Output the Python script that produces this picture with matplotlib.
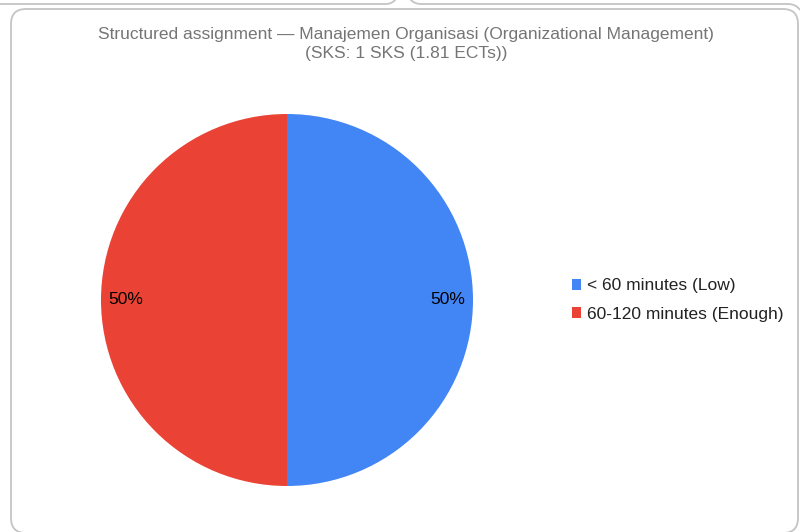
import matplotlib.pyplot as plt
from matplotlib.patches import FancyBboxPatch
from matplotlib.path import Path
from matplotlib.patches import PathPatch

plt.rcParams['font.family'] = ['Liberation Sans', 'DejaVu Sans']

# data
labels = ['< 60 minutes (Low)', '60-120 minutes (Enough)']
values = [50, 50]
colors = ['#4285F4', '#EA4335']
title = ('Structured assignment \u2014 Manajemen Organisasi (Organizational Management)\n'
         '(SKS: 1 SKS (1.81 ECTs))')

W, H = 800, 532
fig = plt.figure(figsize=(W / 100, H / 100), dpi=100)

# card frame drawn in pixel coords
bg = fig.add_axes([0, 0, 1, 1])
bg.set_xlim(0, W)
bg.set_ylim(H, 0)
bg.axis('off')
card = FancyBboxPatch((11, 9), 787, 524, boxstyle='round,pad=0,rounding_size=15',
                      facecolor='white', edgecolor='#c4c4c4', linewidth=1.3)
bg.add_patch(card)

# bits of the tooltip-ish shape above the card
left_tab = Path([(0, 4), (386, 4), (392, 4), (396, -1)],
                [Path.MOVETO, Path.LINETO, Path.CURVE3, Path.CURVE3])
right_tab = Path([(410, -1), (414, 4), (421, 4), (788, 4), (796, 4), (800, 10)],
                 [Path.MOVETO, Path.CURVE3, Path.CURVE3, Path.LINETO, Path.CURVE3, Path.CURVE3])
for p in (left_tab, right_tab):
    bg.add_patch(PathPatch(p, facecolor='none', edgecolor='#c4c4c4', linewidth=1.3))

bg.text(406, 44, title, ha='center', va='center', fontsize=12.5, color='#757575',
        linespacing=1.3)

# pie
cx, cy, r = 287, 300, 186
ax = fig.add_axes([(cx - r) / W, 1 - (cy + r) / H, 2 * r / W, 2 * r / H])
wedges, texts, autotexts = ax.pie(values, colors=colors, startangle=90, counterclock=False,
                                  autopct='%1.0f%%', pctdistance=0.865,
                                  textprops={'fontsize': 12.5, 'color': 'black'})
ax.set_xlim(-1, 1)
ax.set_ylim(-1, 1)
ax.set_aspect('equal')

ax.legend(wedges, labels, loc='center left', bbox_to_anchor=(1.247, 0.5), frameon=False,
          fontsize=12.5, handlelength=0.55, handleheight=0.55, handletextpad=0.3,
          labelspacing=0.75, labelcolor='#222222', borderaxespad=0)

fig.savefig('out.png', dpi=100)
